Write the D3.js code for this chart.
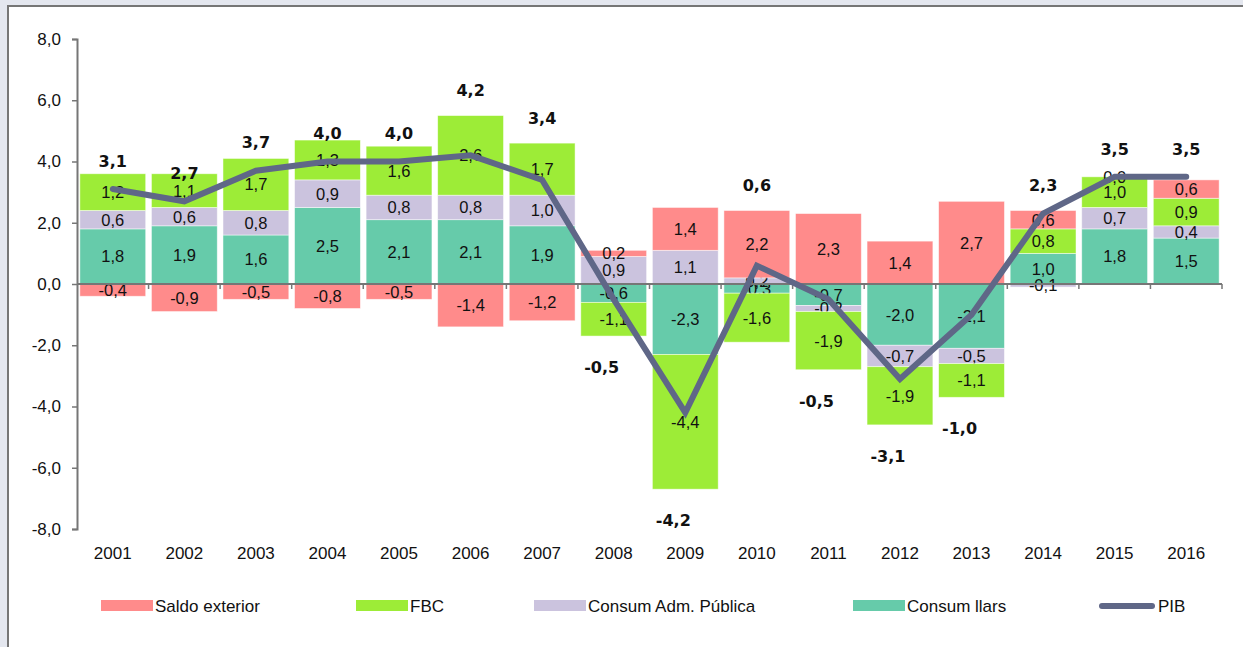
<!DOCTYPE html>
<html>
<head>
<meta charset="utf-8">
<script src="https://cdn.jsdelivr.net/npm/d3@7"></script>
<style>
  body { margin: 0; background: #e4e7ef; }
  svg { display: block; font-family: "Liberation Sans", Arial, sans-serif; }
  .seg-label { font-size: 16.5px; fill: #111; }
  .pib-label { font-family: "DejaVu Sans", Verdana, sans-serif; font-size: 16px; font-weight: bold; fill: #111; }
  .axis text { font-size: 17px; fill: #111; }
  .legend text { font-size: 17px; fill: #111; }
</style>
</head>
<body>
<div id="chart"></div>
<script>
// data (contributions to GDP growth, pp)
var years = ["2001","2002","2003","2004","2005","2006","2007","2008","2009","2010","2011","2012","2013","2014","2015","2016"];
var consumLlars  = [1.8, 1.9, 1.6, 2.5, 2.1, 2.1, 1.9, -0.6, -2.3, -0.3, -0.7, -2.0, -2.1, 1.0, 1.8, 1.5];
var consumAdm    = [0.6, 0.6, 0.8, 0.9, 0.8, 0.8, 1.0, 0.9, 1.1, 0.2, -0.2, -0.7, -0.5, -0.1, 0.7, 0.4];
var fbc          = [1.2, 1.1, 1.7, 1.3, 1.6, 2.6, 1.7, -1.1, -4.4, -1.6, -1.9, -1.9, -1.1, 0.8, 1.0, 0.9];
var saldoExt     = [-0.4, -0.9, -0.5, -0.8, -0.5, -1.4, -1.2, 0.2, 1.4, 2.2, 2.3, 1.4, 2.7, 0.6, 0.0, 0.6];
var pib          = [3.1, 2.7, 3.7, 4.0, 4.0, 4.2, 3.4, -0.5, -4.2, 0.6, -0.5, -3.1, -1.0, 2.3, 3.5, 3.5];
var yTicks = [8, 6, 4, 2, 0, -2, -4, -6, -8];

var series = [
  {key: "llars", name: "Consum llars", values: consumLlars, color: "#66cbaa"},
  {key: "adm", name: "Consum Adm. Pública", values: consumAdm, color: "#cbc3de"},
  {key: "fbc", name: "FBC", values: fbc, color: "#9dec37"},
  {key: "saldo", name: "Saldo exterior", values: saldoExt, color: "#ff8b8b"}
];

var W = 1243, H = 647;
var margin = {left: 77, right: 21, top: 39, bottom: 118};

var svg = d3.select("#chart").append("svg")
    .attr("width", W)
    .attr("height", H);

// white chart area, border only shows on left/top
svg.append("rect").attr("x", 9).attr("y", 7).attr("width", W - 9).attr("height", H - 7).attr("fill", "#fff");
svg.append("path").attr("d", "M8," + H + "V6H" + W).attr("fill", "none").attr("stroke", "#767676").attr("stroke-width", 2);

var x = d3.scaleBand().domain(years).range([margin.left, W - margin.right]).paddingInner(0.08).paddingOuter(0.04);
var y = d3.scaleLinear().domain([-8, 8]).range([H - margin.bottom, margin.top]);

var fmt = function(v) { return d3.format(".1f")(v).replace("−", "-").replace(".", ","); };

var table = years.map(function(yr, i) {
  var row = {year: yr, idx: i};
  series.forEach(function(s) { row[s.key] = s.values[i]; });
  return row;
});

var stacked = d3.stack()
    .keys(series.map(function(s) { return s.key; }))
    .offset(d3.stackOffsetDiverging)(table);

function posTop(i) { return d3.sum(series, function(s) { return Math.max(0, s.values[i]); }); }
function negBottom(i) { return d3.sum(series, function(s) { return Math.min(0, s.values[i]); }); }

// bars
var layers = svg.append("g").selectAll("g")
    .data(stacked)
  .enter().append("g")
    .attr("fill", function(d, i) { return series[i].color; });

layers.selectAll("rect")
    .data(function(d) { return d; })
  .enter().append("rect")
    .attr("x", function(d) { return x(d.data.year); })
    .attr("width", x.bandwidth())
    .attr("y", function(d) { return y(Math.max(d[0], d[1])); })
    .attr("height", function(d) { return Math.abs(y(d[0]) - y(d[1])); })
    .attr("stroke", "#fff")
    .attr("stroke-opacity", 0.6)
    .attr("stroke-width", 0.8);

// y axis
var yAxis = svg.append("g")
    .attr("class", "axis")
    .attr("transform", "translate(" + margin.left + ",0)")
    .call(d3.axisLeft(y).tickValues(yTicks).tickFormat(fmt).tickSize(5).tickPadding(11));
yAxis.attr("font-family", null);
yAxis.select(".domain").attr("stroke", "#767676").attr("stroke-width", 2);
yAxis.selectAll(".tick line").attr("stroke", "#767676").attr("stroke-width", 1.5);

// zero line with category ticks
var zero = svg.append("g");
zero.append("line")
    .attr("x1", margin.left).attr("x2", W - margin.right)
    .attr("y1", y(0)).attr("y2", y(0))
    .attr("stroke", "#767676").attr("stroke-width", 2);
var bounds = years.map(function(yr) { return x(yr) - x.step() * x.paddingInner() / 2; });
bounds.push(W - margin.right);
zero.selectAll(".xt")
    .data(bounds.slice(1))
  .enter().append("line")
    .attr("x1", function(d) { return d; }).attr("x2", function(d) { return d; })
    .attr("y1", y(0)).attr("y2", y(0) + 5)
    .attr("stroke", "#767676").attr("stroke-width", 1.5);

// category labels
svg.append("g").attr("class", "axis").selectAll("text")
    .data(years)
  .enter().append("text")
    .attr("x", function(d) { return x(d) + x.bandwidth() / 2; })
    .attr("y", 559)
    .attr("text-anchor", "middle")
    .text(function(d) { return d; });

// segment labels
layers.each(function(layer, li) {
  d3.select(this).selectAll("text")
      .data(layer)
    .enter().append("text")
      .attr("class", "seg-label")
      .attr("x", function(d) { return x(d.data.year) + x.bandwidth() / 2; })
      .attr("y", function(d) {
        var v = series[li].values[d.data.idx];
        if (v === 0) return y(posTop(d.data.idx));
        return y((d[0] + d[1]) / 2);
      })
      .attr("dy", "0.36em")
      .attr("text-anchor", "middle")
      .text(function(d) { return fmt(series[li].values[d.data.idx]); });
});

// PIB line
var line = d3.line()
    .x(function(d, i) { return x(years[i]) + x.bandwidth() / 2; })
    .y(function(d) { return y(d); });

svg.append("path")
    .datum(pib)
    .attr("d", line)
    .attr("fill", "none")
    .attr("stroke", "#5f6787")
    .attr("stroke-width", 6)
    .attr("stroke-linecap", "round")
    .attr("stroke-linejoin", "miter");

// PIB labels
svg.append("g").selectAll("text")
    .data(pib)
  .enter().append("text")
    .attr("class", "pib-label")
    .attr("x", function(d, i) { return x(years[i]) + x.bandwidth() / 2 + (d < 0 ? -12 : 0); })
    .attr("y", function(d, i) {
      if (d < 0) return y(negBottom(i)) + 31;
      if (posTop(i) - d > 1) return y(posTop(i)) - 25;
      return y(d) - 28;
    })
    .attr("dy", "0.36em")
    .attr("text-anchor", "middle")
    .text(function(d) { return fmt(d); });

// legend
var legendItems = [
  {name: "Saldo exterior", color: "#ff8b8b", x: 101},
  {name: "FBC", color: "#9dec37", x: 356},
  {name: "Consum Adm. Pública", color: "#cbc3de", x: 534},
  {name: "Consum llars", color: "#66cbaa", x: 853},
  {name: "PIB", color: "#5f6787", x: 1102, line: true}
];
var legend = svg.append("g").attr("class", "legend");
var li = legend.selectAll("g").data(legendItems).enter().append("g")
    .attr("transform", function(d) { return "translate(" + d.x + ",606)"; });
li.each(function(d) {
  var g = d3.select(this);
  if (d.line) {
    g.append("line").attr("x1", 0).attr("x2", 50).attr("y1", 0).attr("y2", 0)
      .attr("stroke", d.color).attr("stroke-width", 6).attr("stroke-linecap", "round");
  } else {
    g.append("rect").attr("x", 0).attr("y", -6).attr("width", 52).attr("height", 11).attr("fill", d.color);
  }
});
li.append("text")
    .attr("x", function(d) { return d.line ? 56 : 54; })
    .attr("y", 0)
    .attr("dy", "0.36em")
    .text(function(d) { return d.name; });
</script>
</body>
</html>
